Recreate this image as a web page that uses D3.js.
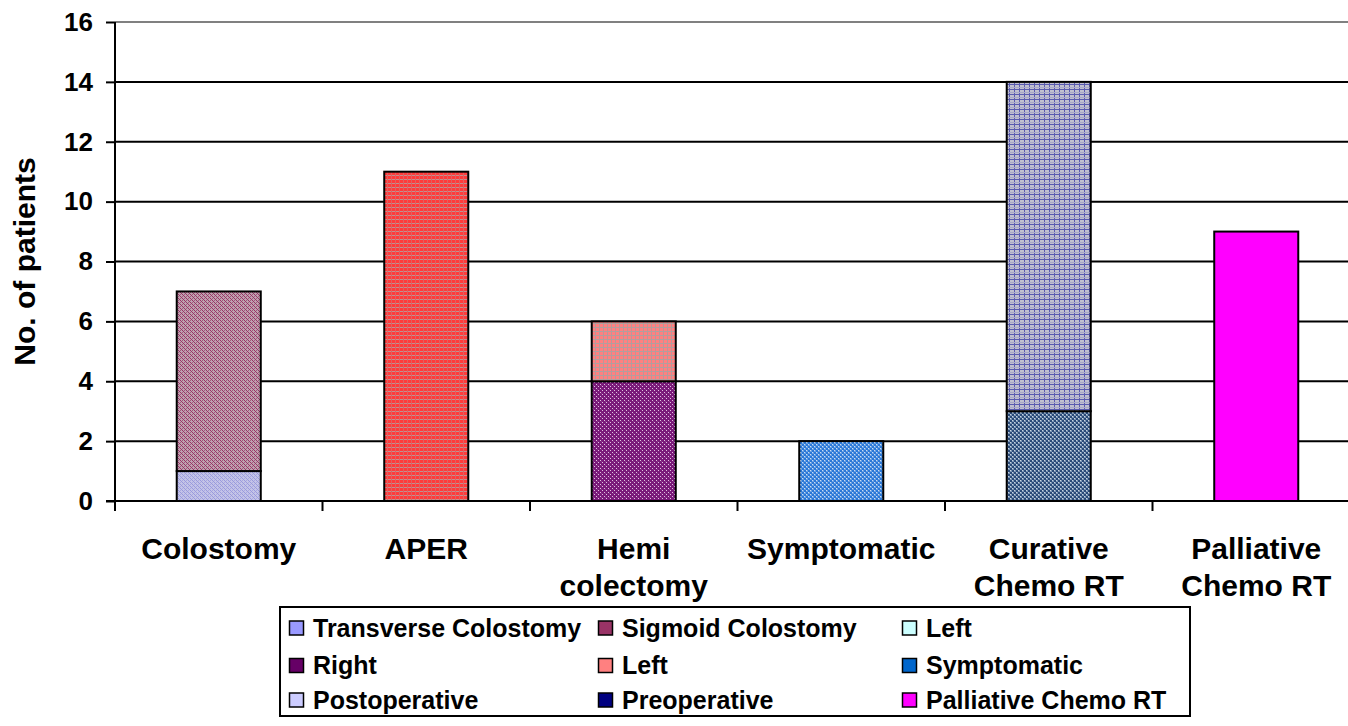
<!DOCTYPE html>
<html>
<head>
<meta charset="utf-8">
<script src="https://cdn.jsdelivr.net/npm/d3@7"></script>
<style>
  html, body { margin: 0; padding: 0; background: #fff; }
  svg { display: block; font-family: "Liberation Sans", Arial, sans-serif; font-weight: bold; }
</style>
</head>
<body>
<svg id="chart" width="1348" height="726"></svg>
<script>
// Treatment groups on the x axis (second line wraps where given)
const categories = ["Colostomy", "APER", "Hemi colectomy", "Symptomatic", "Curative Chemo RT", "Palliative Chemo RT"];
const categoryLines = [["Colostomy"], ["APER"], ["Hemi", "colectomy"], ["Symptomatic"], ["Curative", "Chemo RT"], ["Palliative", "Chemo RT"]];

// Series (legend order) and their patient counts per group
const seriesNames = ["Transverse Colostomy", "Sigmoid Colostomy", "Left", "Right", "Left", "Symptomatic", "Postoperative", "Preoperative", "Palliative Chemo RT"];
const transverseColostomy = [1, 0, 0, 0, 0, 0];
const sigmoidColostomy    = [6, 0, 0, 0, 0, 0];
const leftAper            = [0, 11, 0, 0, 0, 0];
const rightHemi           = [0, 0, 4, 0, 0, 0];
const leftHemi            = [0, 0, 2, 0, 0, 0];
const symptomatic         = [0, 0, 0, 2, 0, 0];
const postoperative       = [0, 0, 0, 0, 11, 0];
const preoperative        = [0, 0, 0, 0, 3, 0];
const palliative          = [0, 0, 0, 0, 0, 9];
const seriesValues = [transverseColostomy, sigmoidColostomy, leftAper, rightHemi, leftHemi, symptomatic, postoperative, preoperative, palliative];

// Legend swatch colours
const legendColors = ["#9999FF", "#993366", "#CCFFFF", "#660066", "#FF8080", "#0066CC", "#CCCCFF", "#000080", "#FF00FF"];
// Stacking order from bottom to top
const stackOrder = [0, 1, 2, 3, 4, 5, 7, 6, 8];
const yTicks = [0, 2, 4, 6, 8, 10, 12, 14, 16];

const svg = d3.select("#chart");
const W = 1348, H = 726;
const plot = { left: 115, right: 1360, top: 22, bottom: 501 };
const FONT = "Liberation Sans, Arial, sans-serif";

// ---- fill patterns for the bars ----
const defs = svg.append("defs");
function pattern(id, size, bg, rects) {
  const p = defs.append("pattern").attr("id", id)
    .attr("patternUnits", "userSpaceOnUse").attr("width", size).attr("height", size);
  p.append("rect").attr("width", size).attr("height", size).attr("fill", bg).attr("shape-rendering", "crispEdges");
  rects.forEach(r => p.append("rect").attr("x", r[0]).attr("y", r[1]).attr("width", r[2]).attr("height", r[3])
    .attr("fill", r[4]).attr("shape-rendering", "crispEdges"));
}
// fine diagonal weaves
pattern("p0", 4, "#c4c4e8", [[0,0,1,1,"#9999dd"],[1,1,1,1,"#9999dd"],[2,2,1,1,"#9999dd"],[3,3,1,1,"#9999dd"],[2,0,1,1,"#aaaadd"],[0,2,1,1,"#aaaadd"]]);
pattern("p1", 4, "#c0a0b0", [[0,0,1,1,"#993366"],[1,1,1,1,"#993366"],[2,2,1,1,"#993366"],[3,3,1,1,"#993366"],[2,0,1,1,"#9a6078"],[0,2,1,1,"#9a6078"]]);
// red grid
pattern("p2", 4, "#ff3b3b", [[0,3,4,1,"#c09090"],[3,0,1,4,"#e06060"]]);
// purple with light dots
pattern("p3", 4, "#7a1a7a", [[0,0,1,1,"#e0c0e0"],[2,2,1,1,"#e0c0e0"],[1,1,1,1,"#8a3a8a"]]);
// pink grid
pattern("p4", 4, "#ff8080", [[0,3,4,1,"#b0a0a0"],[3,0,1,4,"#b89a9a"]]);
// blue checker
pattern("p5", 4, "#2a78d8", [[0,0,2,2,"#6aa0e0"],[2,2,2,2,"#6aa0e0"],[0,0,1,1,"#c8dcf4"],[2,2,1,1,"#c8dcf4"]]);
// lavender grid on grey
pattern("p6", 5, "#c0c0d0", [[0,4,5,1,"#5a5ab0"],[4,0,1,5,"#5a5ab0"],[0,2,5,1,"#a8a8c8"]]);
// navy checker
pattern("p7", 4, "#2a4a78", [[0,0,2,2,"#7a94b4"],[2,2,2,2,"#7a94b4"],[0,0,1,1,"#c8d4e0"],[2,2,1,1,"#c8d4e0"]]);
const barFills = ["url(#p0)", "url(#p1)", "url(#p2)", "url(#p3)", "url(#p4)", "url(#p5)", "url(#p6)", "url(#p7)", "#FF00FF"];

// ---- scales ----
const x = d3.scaleBand().domain(categories).range([plot.left, plot.right])
  .paddingInner(0.595).paddingOuter(0.2975);
const y = d3.scaleLinear().domain([0, 16]).range([plot.bottom, plot.top]);

// ---- gridlines ----
const grid = svg.append("g");
grid.selectAll("line").data(yTicks.filter(t => t > 0)).join("line")
  .attr("x1", plot.left).attr("x2", W)
  .attr("y1", d => y(d)).attr("y2", d => y(d))
  .attr("stroke", d => d === 16 ? "#808080" : "#000")
  .attr("stroke-width", 2);

// ---- stacked bars ----
const rows = categories.map((c, i) => {
  const o = { cat: c };
  seriesValues.forEach((s, k) => o["s" + k] = s[i]);
  return o;
});
const stack = d3.stack().keys(stackOrder.map(k => "s" + k)).order(d3.stackOrderNone);
const layers = stack(rows);
const barG = svg.append("g");
layers.forEach((layer, li) => {
  const k = stackOrder[li];
  barG.append("g").selectAll("rect")
    .data(layer.filter(d => d[1] - d[0] > 0))
    .join("rect")
    .attr("x", d => x(d.data.cat))
    .attr("width", x.bandwidth())
    .attr("y", d => y(d[1]))
    .attr("height", d => y(d[0]) - y(d[1]))
    .attr("fill", barFills[k])
    .attr("stroke", "#000")
    .attr("stroke-width", 2);
});

// ---- y axis ----
const yAxis = svg.append("g").attr("transform", `translate(${plot.left},0)`)
  .call(d3.axisLeft(y).tickValues(yTicks).tickSize(9).tickPadding(13).tickFormat(d3.format("d")));
yAxis.select(".domain").attr("stroke", "#000").attr("stroke-width", 2).attr("d", `M0,${plot.top}V${plot.bottom + 1}`);
yAxis.selectAll(".tick line").attr("stroke", "#000").attr("stroke-width", 2);
yAxis.selectAll(".tick text").attr("font-size", 26).attr("font-weight", "bold")
  .attr("font-family", FONT).attr("fill", "#000");

// ---- x axis ----
const xAxisG = svg.append("g");
xAxisG.append("line").attr("x1", plot.left - 9).attr("x2", W)
  .attr("y1", plot.bottom).attr("y2", plot.bottom).attr("stroke", "#000").attr("stroke-width", 2);
const step = x.step();
d3.range(categories.length + 1).forEach(i => {
  const xx = plot.left + i * step;
  xAxisG.append("line").attr("x1", xx).attr("x2", xx)
    .attr("y1", plot.bottom).attr("y2", plot.bottom + 10).attr("stroke", "#000").attr("stroke-width", 2);
});
const catLabels = svg.append("g").selectAll("text").data(categories).join("text")
  .attr("x", d => x(d) + x.bandwidth() / 2)
  .attr("y", 559)
  .attr("text-anchor", "middle")
  .attr("font-size", 30)
  .attr("fill", "#000");
catLabels.each(function(d, i) {
  d3.select(this).selectAll("tspan").data(categoryLines[i]).join("tspan")
    .attr("x", x(d) + x.bandwidth() / 2)
    .attr("dy", (t, j) => j === 0 ? 0 : 37)
    .text(t => t);
});

// ---- y axis title ----
svg.append("text")
  .attr("transform", `translate(35,${(plot.top + plot.bottom) / 2}) rotate(-90)`)
  .attr("text-anchor", "middle")
  .attr("font-size", 30)
  .attr("fill", "#000")
  .text("No. of patients");

// ---- legend ----
const legend = { x: 280, y: 607, w: 910, h: 109 };
const lg = svg.append("g");
lg.append("rect").attr("x", legend.x).attr("y", legend.y).attr("width", legend.w).attr("height", legend.h)
  .attr("fill", "#fff").attr("stroke", "#000").attr("stroke-width", 2);
const colX = [289, 598, 902];
const rowY = [628, 665.5, 700];
seriesNames.forEach((name, i) => {
  const cx = colX[i % 3], cy = rowY[Math.floor(i / 3)];
  lg.append("rect").attr("x", cx + 0.5).attr("y", cy - 7).attr("width", 14).attr("height", 14)
    .attr("fill", legendColors[i]).attr("stroke", "#000").attr("stroke-width", 1.5);
  lg.append("text").attr("x", cx + 24).attr("y", cy + 8.5)
    .attr("font-size", 25).attr("fill", "#000").text(name);
});
</script>
</body>
</html>
